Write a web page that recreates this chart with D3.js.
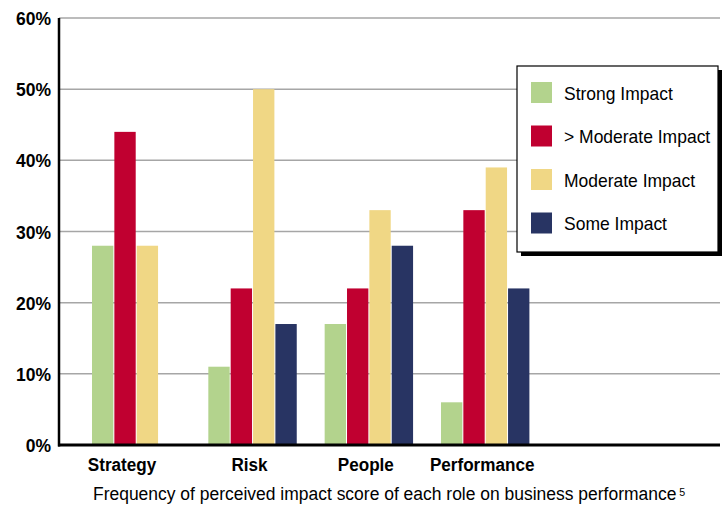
<!DOCTYPE html>
<html>
<head>
<meta charset="utf-8">
<script src="https://cdn.jsdelivr.net/npm/d3@7"></script>
<style>
  html, body { margin: 0; padding: 0; background: #fff; }
  svg { display: block; }
  text { font-family: "Liberation Sans", Arial, sans-serif; }
</style>
</head>
<body>
<svg id="chart" width="728" height="506"></svg>
<script>
// Roles along the x axis and the share of respondents per impact level (%)
const categories = ["Strategy", "Risk", "People", "Performance"];
const seriesNames = ["Strong Impact", "> Moderate Impact", "Moderate Impact", "Some Impact"];
const strongImpact   = [28, 11, 17, 6];
const aboveModerate  = [44, 22, 22, 33];
const moderateImpact = [28, 50, 33, 39];
const someImpact     = [null, 17, 28, 22];
const yTicks = [0, 10, 20, 30, 40, 50, 60];
const titleText = "Frequency of perceived impact score of each role on business performance";
const footnote = "5";

const seriesValues = [strongImpact, aboveModerate, moderateImpact, someImpact];
const colors = ["#b3d38d", "#c00030", "#f0d785", "#283463"];

const svg = d3.select("#chart");
const plot = { left: 59, right: 720, top: 18, bottom: 445 };

// Narrow the type horizontally to get a condensed gothic look
function condense(sel, factor) {
  sel.each(function () {
    const w = this.getComputedTextLength();
    d3.select(this).attr("textLength", w * factor).attr("lengthAdjust", "spacingAndGlyphs");
  });
}

const y = d3.scaleLinear().domain([0, 60]).range([plot.bottom, plot.top]);
const x0 = d3.scaleBand().domain(categories).range([92, 529.4]).paddingInner(0.24).paddingOuter(0);
const x1 = d3.scaleBand().domain(seriesNames).range([0, x0.bandwidth()]).paddingInner(0.045).paddingOuter(0);

// Horizontal gridlines
svg.append("g")
  .selectAll("line")
  .data(yTicks.filter(d => d > 0))
  .join("line")
  .attr("x1", plot.left).attr("x2", plot.right)
  .attr("y1", d => y(d)).attr("y2", d => y(d))
  .attr("stroke", "#a6a6a6").attr("stroke-width", 1.5);

// Bars
const rows = categories.map((c, i) => ({
  category: c,
  bars: seriesNames.map((s, j) => ({ series: s, value: seriesValues[j][i], color: colors[j] }))
           .filter(b => b.value !== null)
}));

const groups = svg.append("g").selectAll("g")
  .data(rows).join("g")
  .attr("transform", d => `translate(${x0(d.category)},0)`);

groups.selectAll("rect")
  .data(d => d.bars)
  .join("rect")
  .attr("x", d => x1(d.series))
  .attr("width", x1.bandwidth())
  .attr("y", d => y(d.value))
  .attr("height", d => y(0) - y(d.value))
  .attr("fill", d => d.color);

// Axis lines
svg.append("line")
  .attr("x1", plot.left).attr("x2", plot.left)
  .attr("y1", plot.top).attr("y2", plot.bottom + 1.5)
  .attr("stroke", "#000").attr("stroke-width", 2.5);
svg.append("line")
  .attr("x1", plot.left - 1).attr("x2", plot.right)
  .attr("y1", plot.bottom).attr("y2", plot.bottom)
  .attr("stroke", "#000").attr("stroke-width", 3);

// Y tick labels
svg.append("g")
  .selectAll("text")
  .data(yTicks)
  .join("text")
  .attr("x", 51)
  .attr("y", d => y(d) + 7)
  .attr("text-anchor", "end")
  .attr("font-weight", "bold")
  .attr("font-size", 17.5)
  .attr("fill", "#000")
  .text(d => d + "%");

// Category labels, centred (slightly left) under the bars each role actually has
const catLabels = svg.append("g")
  .selectAll("text")
  .data(rows)
  .join("text")
  .attr("x", d => x0(d.category) + (x1(d.bars[d.bars.length - 1].series) + x1.bandwidth()) / 2 - 3)
  .attr("y", 471)
  .attr("text-anchor", "middle")
  .attr("font-weight", "bold")
  .attr("font-size", 18)
  .attr("fill", "#000")
  .text(d => d.category);
condense(catLabels, 0.95);

// Caption under the axis, with its footnote marker
const caption = svg.append("text")
  .attr("x", 93)
  .attr("y", 500)
  .attr("font-size", 18)
  .attr("fill", "#000");
caption.append("tspan").text(titleText);
caption.append("tspan")
  .attr("dx", 3)
  .attr("dy", -4)
  .attr("font-size", 11)
  .text(footnote);
condense(caption, 0.975);

// Legend with drop shadow
const legend = { x: 517, y: 66, w: 201, h: 186 };
svg.append("rect")
  .attr("x", legend.x + 4).attr("y", legend.y + 4)
  .attr("width", legend.w).attr("height", legend.h)
  .attr("fill", "#000");
svg.append("rect")
  .attr("x", legend.x).attr("y", legend.y)
  .attr("width", legend.w).attr("height", legend.h)
  .attr("fill", "#fff").attr("stroke", "#000").attr("stroke-width", 1.2);

const items = svg.append("g").selectAll("g")
  .data(seriesNames)
  .join("g")
  .attr("transform", (d, i) => `translate(${legend.x + 14}, ${legend.y + 16 + i * 43.5})`);
items.append("rect")
  .attr("width", 21).attr("height", 21)
  .attr("fill", (d, i) => colors[i]);
const legendText = items.append("text")
  .attr("x", 33)
  .attr("y", 17.5)
  .attr("font-size", 19)
  .attr("fill", "#000")
  .text(d => d);
condense(legendText, 0.92);
</script>
</body>
</html>
